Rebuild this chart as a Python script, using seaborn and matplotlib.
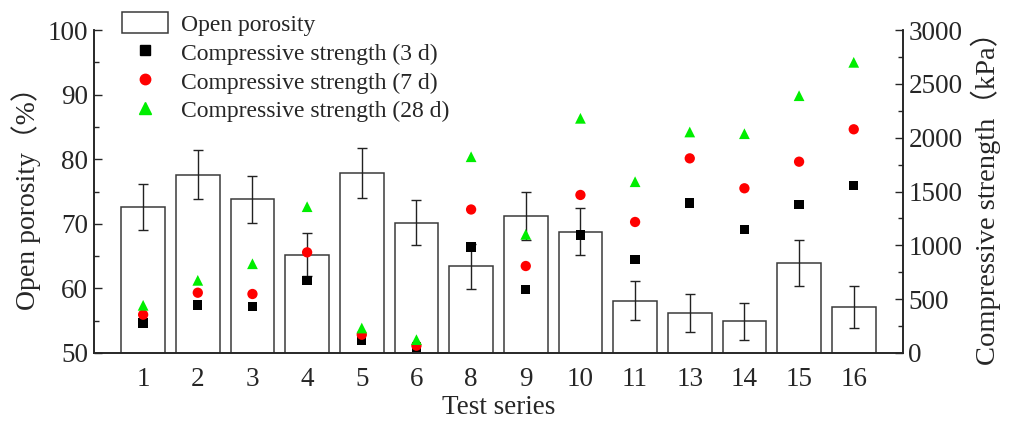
import numpy as np
import pandas as pd
import matplotlib
matplotlib.use("Agg")
import matplotlib.pyplot as plt
import seaborn as sns
from matplotlib.patches import Patch
from matplotlib.lines import Line2D
from matplotlib.ticker import MultipleLocator

series = ["1", "2", "3", "4", "5", "6", "8", "9", "10", "11", "13", "14", "15", "16"]
porosity = [72.6, 77.6, 73.8, 65.2, 77.9, 70.2, 63.4, 71.2, 68.8, 58.1, 56.2, 54.9, 63.9, 57.1]
porosity_err = [3.6, 3.8, 3.6, 3.3, 3.9, 3.5, 3.5, 3.7, 3.6, 3.0, 2.9, 2.85, 3.6, 3.2]
strength_3d = [280, 446, 434, 675, 114, 56, 985, 592, 1096, 870, 1393, 1149, 1381, 1558]
strength_7d = [356, 560, 548, 935, 170, 68, 1333, 808, 1468, 1217, 1808, 1530, 1777, 2078]
strength_28d = [443, 675, 829, 1359, 232, 124, 1823, 1102, 2180, 1591, 2053, 2037, 2390, 2700]

sns.set_theme(style="white")
plt.rcParams["font.family"] = ["Liberation Serif", "Noto Sans CJK SC", "DejaVu Sans"]

df = pd.DataFrame({"series": series, "porosity": porosity})

fig = plt.figure(figsize=(10.10, 4.23), dpi=100)
ax = fig.add_axes([0.093, 0.1655, 0.801, 0.7635])

edge = "#3a3a3a"
sns.barplot(data=df, x="series", y="porosity", order=series, color="white",
            edgecolor=edge, linewidth=1.1, width=0.8, ax=ax, saturation=1)
pos = np.arange(len(series))
ax.errorbar(pos, porosity, yerr=porosity_err, fmt="none", ecolor="#222222",
            elinewidth=1.0, capsize=3.5, capthick=1.0, zorder=5)

ax.set_ylim(50, 100)
ax.set_xlim(-0.9, len(series) - 1 + 0.9)
ax.yaxis.set_major_locator(MultipleLocator(10))
ax.yaxis.set_minor_locator(MultipleLocator(5))
ax.set_xlabel("Test series", fontsize=19.5, labelpad=2)
ax.set_ylabel("Open porosity\uff08%\uff09", fontsize=20, labelpad=5)
ax.tick_params(axis="y", which="major", direction="in", length=6, width=1, labelsize=19.5, pad=4, left=True)
ax.tick_params(axis="y", which="minor", direction="in", length=3.5, width=1, left=True)
ax.tick_params(axis="x", which="both", length=0, labelsize=19.5, pad=10)
ax.spines["top"].set_visible(False)
for s in ["left", "bottom", "right"]:
    ax.spines[s].set_color("#222222")
    ax.spines[s].set_linewidth(1.1)

ax2 = ax.twinx()
ax2.set_xlim(ax.get_xlim())
sns.scatterplot(x=pos, y=strength_3d, marker="s", color="black", s=45, edgecolor="none", ax=ax2, zorder=6)
sns.scatterplot(x=pos, y=strength_7d, marker="o", color="red", s=55, edgecolor="none", ax=ax2, zorder=6)
sns.scatterplot(x=pos, y=strength_28d, marker="^", color="#00ee00", s=60, edgecolor="none", ax=ax2, zorder=6)
ax2.set_ylim(0, 3000)
ax2.yaxis.set_major_locator(MultipleLocator(500))
ax2.yaxis.set_minor_locator(MultipleLocator(250))
ax2.tick_params(axis="y", which="major", direction="in", length=6, width=1, labelsize=19.5, pad=4, right=True)
ax2.tick_params(axis="y", which="minor", direction="in", length=3.5, width=1, right=True)
ax2.set_ylabel("Compressive strength\uff08kPa\uff09", fontsize=20.5, labelpad=6)
ax2.spines["top"].set_visible(False)
ax2.spines["right"].set_color("#222222")
ax2.spines["right"].set_linewidth(1.1)
ax2.grid(False)
ax.grid(False)

handles = [
    Patch(facecolor="white", edgecolor=edge, linewidth=1.1),
    Line2D([], [], marker="s", color="black", linestyle="none", markersize=7),
    Line2D([], [], marker="o", color="red", linestyle="none", markersize=7.5),
    Line2D([], [], marker="^", color="#00ee00", linestyle="none", markersize=8),
]
labels = ["Open porosity", "Compressive strength (3 d)", "Compressive strength (7 d)",
          "Compressive strength (28 d)"]
fig.legend(handles, labels, loc="upper left", bbox_to_anchor=(0.104, 1.01), frameon=False,
           fontsize=17, handlelength=1.95, handleheight=0.95, handletextpad=0.55,
           labelspacing=0.24, borderpad=0.2)

fig.savefig("out.png", dpi=100)
